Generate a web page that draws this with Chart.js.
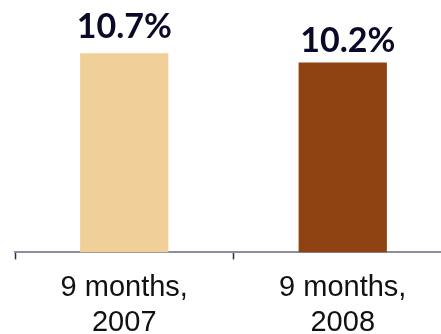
<!DOCTYPE html>
<html>
<head>
<meta charset="utf-8">
<script src="https://cdn.jsdelivr.net/npm/chart.js@4"></script>
<style>
  html, body { margin: 0; padding: 0; background: #fff; overflow: hidden; }
</style>
</head>
<body>
<canvas id="growthChart" width="452" height="351"></canvas>
<script>
// Growth rate, nine-month periods
const periods = [['9 months,', '2007'], ['9 months,', '2008']];
const growth = [10.7, 10.2];
const barColors = ['#F0D098', '#8F4313'];

// Bold percentage over each bar
const valueLabels = {
    id: 'valueLabels',
    afterDatasetsDraw(chart) {
        const ctx = chart.ctx;
        const meta = chart.getDatasetMeta(0);
        ctx.save();
        ctx.font = 'bold 34px Lato';
        ctx.fillStyle = '#0A0A28';
        ctx.textAlign = 'center';
        ctx.textBaseline = 'alphabetic';
        meta.data.forEach((bar, i) => {
            ctx.fillText(growth[i].toFixed(1) + '%', bar.x + (i ? 5 : 0), bar.y - (i ? 10 : 15));
        });
        ctx.restore();
    }
};

const ctx = document.getElementById('growthChart').getContext('2d');
new Chart(ctx, {
    type: 'bar',
    data: {
        labels: periods,
        datasets: [{
            data: growth,
            backgroundColor: barColors,
            categoryPercentage: 1,
            barPercentage: 0.404
        }]
    },
    options: {
        responsive: false,
        animation: false,
        layout: { padding: { left: 15, right: 0, top: 1, bottom: 0 } },
        plugins: {
            legend: { display: false },
            tooltip: { enabled: false }
        },
        scales: {
            x: {
                grid: {
                    drawOnChartArea: false,
                    drawTicks: true,
                    tickLength: 7,
                    tickColor: '#2A2D50',
                    tickWidth: 1.5
                },
                border: { color: '#8C8EA2', width: 2 },
                ticks: {
                    color: '#111',
                    font: { family: 'Liberation Sans', size: 29, lineHeight: 1.2 },
                    padding: 11,
                    maxRotation: 0
                }
            },
            y: {
                display: false,
                min: 0,
                max: 13.5
            }
        }
    },
    plugins: [valueLabels]
});
</script>
</body>
</html>
